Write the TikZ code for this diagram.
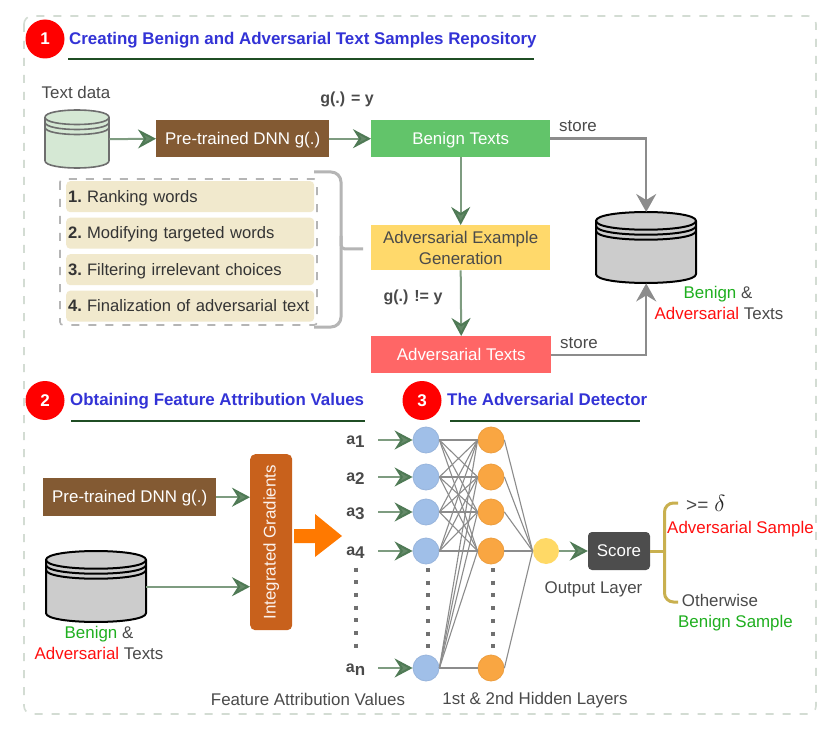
\documentclass[tikz,border=0pt]{standalone}
\usepackage{fontspec}
\setmainfont{Liberation Sans}
\usetikzlibrary{arrows.meta,calc}
\definecolor{txt}{HTML}{4A4A4A}
\definecolor{framec}{HTML}{D3DCD3}
\definecolor{ttl}{HTML}{3333D6}
\definecolor{ruleg}{HTML}{1F4D24}
\definecolor{brownb}{HTML}{835A33}
\definecolor{greenb}{HTML}{62C46A}
\definecolor{yellowb}{HTML}{FFD96B}
\definecolor{redb}{HTML}{FF6666}
\definecolor{creamb}{HTML}{F1E9CD}
\definecolor{arrg}{HTML}{7E9C80}
\definecolor{tipg}{HTML}{4F7A55}
\definecolor{greyl}{HTML}{8C8C8C}
\definecolor{braceg}{HTML}{B5B5B5}
\definecolor{goldb}{HTML}{C9B04F}
\definecolor{bluen}{HTML}{A0BFE8}
\definecolor{orangen}{HTML}{F9A642}
\definecolor{yellown}{HTML}{FFD966}
\definecolor{igb}{HTML}{C8611C}
\definecolor{scoreb}{HTML}{4D4D4D}
\definecolor{benign}{HTML}{1FAF1F}
\definecolor{adv}{HTML}{FF1010}
\definecolor{dbgreen}{HTML}{D5E8D4}
\definecolor{dbgrey}{HTML}{CCCCCC}
\newcommand{\fs}{\fontsize{16.9}{21}\selectfont}
\tikzset{
 lbl/.style={font=\fs,text=txt,inner sep=0pt,align=center},
 ttlt/.style={font=\fontsize{16.9}{21}\selectfont\bfseries,text=ttl,inner sep=0pt,anchor=west,text height=12pt,text depth=3.5pt},
 ttlr/.style={draw=ruleg,line width=1.8pt},
 num/.style={circle,fill=red,minimum size=39pt,inner sep=0pt,text=white,font=\fontsize{17}{20}\selectfont\bfseries},
 boxb/.style={rectangle,inner sep=0pt,font=\fs,text=white,align=center},
 oneline/.style={text height=15pt,text depth=3.5pt},
 cream/.style={rectangle,rounded corners=4pt,fill=creamb,minimum width=248pt,minimum height=31pt,inner xsep=2pt,inner ysep=0pt,font=\fontsize{16.6}{20}\selectfont,text=txt!70!black,text width=244pt,align=left,text height=14.5pt,text depth=3.5pt},
 garrow/.style={draw=arrg,line width=2pt,-{Stealth[length=18pt,width=19pt,inset=6pt,color=tipg,fill=tipg!55!arrg]}},
 sarrow/.style={draw=greyl,line width=2.4pt,-{Stealth[length=18pt,width=20pt,inset=6pt,fill=greyl]}},
 neuron/.style={circle,minimum size=26pt,inner sep=0pt,line width=.8pt},
 nn/.style={draw=greyl,line width=1.1pt},
 vdots/.style={draw=greyl!80!black,line width=4pt,dash pattern=on 4pt off 8.7pt},
 alab/.style={font=\fontsize{16}{20}\selectfont\bfseries,text=txt,inner sep=0pt},
 dbody/.style={line join=round},
}
% name, left, top, width, height, fill, stroke, stroke width
\newcommand{\dbase}[8]{%
 \node[rectangle,minimum width=#4pt,minimum height=#5pt,inner sep=0pt,anchor=north west] (#1) at (#2,#3) {};
 \pgfmathsetmacro{\ry}{#5*0.125}\pgfmathsetmacro{\cy}{\ry*1.33}
 \pgfmathsetmacro{\xr}{#2+#4}\pgfmathsetmacro{\yt}{#3+\ry}\pgfmathsetmacro{\ybb}{#3+#5-\ry}
 \draw[dbody,fill=#6,draw=#7,line width=#8pt] (#2,\yt) .. controls (#2,\yt-\cy) and (\xr,\yt-\cy) .. (\xr,\yt) -- (\xr,\ybb) .. controls (\xr,\ybb+\cy) and (#2,\ybb+\cy) .. (#2,\ybb) -- cycle;
 \foreach \k in {0,5,10}{
 \draw[draw=#7,line width=#8pt] (#2,\yt+\k) .. controls (#2,\yt+\k+\cy) and (\xr,\yt+\k+\cy) .. (\xr,\yt+\k);}
}
\newcommand{\asub}[1]{a\raisebox{-3pt}{\fontsize{17}{20}\selectfont #1}}
\begin{document}
\begin{tikzpicture}[x=1pt,y=-1pt]
\useasboundingbox[fill=white] (0,0) rectangle (839,733);
\draw[framec,line width=1.6pt,dash pattern=on 8pt off 9pt,rounded corners=8pt] (24,16) rectangle (816,714);

% section 1
\node[num] (n1) at (45,39) {1};
\node[ttlt] (t1) at (69,40) {Creating Benign and Adversarial Text Samples Repository};
\draw[ttlr] (68,59) -- (534,59);
\node[lbl] (td) at (76,92) {Text data};
\dbase{db1}{45}{110}{64}{58}{dbgreen}{txt!80!white}{1.6}
\node[boxb,oneline,fill=brownb,minimum width=173pt,minimum height=37pt,anchor=north west] (dnn1) at (156,120) {Pre-trained DNN g(.)};
\node[boxb,oneline,fill=greenb,minimum width=179pt,minimum height=37pt,anchor=north west] (ben) at (371,120) {Benign Texts};
\node[boxb,fill=yellowb,minimum width=179pt,minimum height=45pt,anchor=north west,text=txt] (gen) at (371,225) {\rule{0pt}{12pt}Adversarial Example\\Generation};
\node[boxb,oneline,fill=redb,minimum width=180pt,minimum height=37pt,anchor=north west] (advb) at (371,336) {Adversarial Texts};
\node[alab] (gy) at (347,99) {g(.) = y};
\node[alab] (gny) at (413,297) {g(.) != y};
\node[lbl] (st1) at (578,126) {store};
\node[lbl] (st2) at (579,343) {store};
\draw[garrow] (db1.east) -- (dnn1.west);
\draw[garrow] (dnn1.east) -- (ben.west);
\draw[garrow] (ben.south) -- (gen.north);
\draw[garrow] (gen.south) -- (advb.north);

\node[cream,anchor=north west] (s1) at (66,181) {\textbf{1.}\hspace{5pt}Ranking words};
\node[cream,anchor=north west] (s2) at (66,217.5) {\textbf{2.}\hspace{5pt}Modifying targeted words};
\node[cream,anchor=north west] (s3) at (66,254) {\textbf{3.}\hspace{5pt}Filtering irrelevant choices};
\node[cream,anchor=north west] (s4) at (66,290.5) {\textbf{4.}\hspace{5pt}Finalization of adversarial text};
\draw[draw=braceg,line width=1.6pt,dash pattern=on 8pt off 9pt,rounded corners=3pt] (60,179) rectangle (317,325);
\coordinate (bt) at (314,172);
\coordinate (bb) at (314,327);
\coordinate (btip) at (363,249);
\draw[braceg,line width=3pt,rounded corners=10pt] (bt) -- (341,172) -- (341,249);
\draw[braceg,line width=3pt,rounded corners=10pt] (bb) -- (341,327) -- (341,249);
\draw[braceg,line width=3pt,rounded corners=4pt] (341,236) -- (341,249) -- (btip);

\dbase{db2}{596}{212}{100}{71}{dbgrey}{black}{2}
\draw[sarrow] (ben.east) -| (db2.north);
\draw[sarrow] (advb.east) -| (db2.south);
\node[lbl] (bt1) at (718,294) {\textcolor{benign}{Benign} \&};
\node[lbl] (bt2) at (719,313) {\textcolor{adv}{Adversarial} Texts};

% section 2
\node[num] (n2) at (45,400.5) {2};
\node[ttlt] (t2) at (70,401.5) {Obtaining Feature Attribution Values};
\draw[ttlr] (71,421) -- (365,421);
\node[boxb,oneline,fill=brownb,minimum width=173pt,minimum height=38pt,anchor=north west] (dnn2) at (43,478) {Pre-trained DNN g(.)};
\dbase{db3}{46}{551}{100}{71}{dbgrey}{black}{2}
\node[lbl] (bt3) at (99,634) {\textcolor{benign}{Benign} \&};
\node[lbl] (bt4) at (99,653) {\textcolor{adv}{Adversarial} Texts};
\node[rectangle,rounded corners=5pt,fill=igb,minimum width=42pt,minimum height=176pt,inner sep=0pt,anchor=north west] (ig) at (250,454) {};
\node[font=\fs,text=white!92!igb,rotate=90,inner sep=0pt] (igt) at (ig.center) {Integrated Gradients};
\draw[garrow] (dnn2.east) -- (dnn2.east -| ig.west);
\draw[garrow] (db3.east) -- (db3.east -| ig.west);
\fill[orange!95!red] (294,529) -- (315,529) -- (315,514) -- (342,536) -- (315,557) -- (315,543) -- (294,543) -- cycle;

% section 3
\node[num] (n3) at (422,400.5) {3};
\node[ttlt] (t3) at (447,401.5) {The Adversarial Detector};
\draw[ttlr] (450,421) -- (640,421);

% network
\foreach \i/\y/\s in {1/440/1,2/477/2,3/512/3,4/551/4,5/668/n}{
 \node[neuron,fill=bluen,draw=bluen!95!black] (b\i) at (426,\y) {};
 \node[neuron,fill=orangen,draw=orangen!95!black] (o\i) at (491,\y) {};
 \node[alab] (a\i) at (355.5,\y+2) {\asub{\s}};
 \coordinate (c\i) at (378,\y);
 \draw[garrow] (c\i) -- (b\i.west);
}
\node[neuron,fill=yellown] (y1) at (546,551) {};
\foreach \i in {1,2,3,4}{
 \foreach \j in {1,2,3,4}{\draw[nn] (b\i.east) -- (o\j.west);}
 \draw[nn] (b5.east) -- (o\i.west);
}
\draw[nn] (b5.east) -- (o5.west);
\foreach \j in {1,2,3,4,5}{\draw[nn] (o\j.east) -- (y1.west);}
\coordinate (d1a) at (356,567.5); \coordinate (d1b) at (356,648);
\coordinate (d2a) at (428,568); \coordinate (d2b) at (428,650);
\coordinate (d3a) at (493,568); \coordinate (d3b) at (493,650);
\draw[vdots] (d1a) -- (d1b);
\draw[vdots] (d2a) -- (d2b);
\draw[vdots] (d3a) -- (d3b);
\node[rectangle,rounded corners=4pt,fill=scoreb,minimum width=62pt,minimum height=38pt,inner sep=0pt,font=\fs,text=white,oneline] (sc) at (619,551) {Score};
\draw[garrow] (y1.east) -- (sc.west);
\coordinate (gt) at (678,503);
\coordinate (gb) at (678,602);
\draw[goldb,line width=3pt,rounded corners=9pt] (gt) -- (664.5,503) -- (664.5,551);
\draw[goldb,line width=3pt,rounded corners=9pt] (gb) -- (664.5,602) -- (664.5,551);
\draw[goldb,line width=3pt] (sc.east) -- (664.5,551);
\node[lbl,anchor=west] (ge) at (686,503) {\fontsize{19}{21}\selectfont>=\hspace{6pt}\textcolor{black!85}{\scalebox{1.35}{$\delta$}}};
\node[lbl,text=adv] (as) at (740.5,529) {Adversarial Sample};
\node[lbl] (ot) at (720,600) {Otherwise};
\node[lbl,text=benign] (bs) at (735.5,623) {Benign Sample};
\node[lbl] (ol) at (593.5,589) {Output Layer};
\node[lbl] (hl) at (535,700) {1st \& 2nd Hidden Layers};
\node[lbl] (fa) at (308,699) {Feature Attribution Values};
\end{tikzpicture}
\end{document}
